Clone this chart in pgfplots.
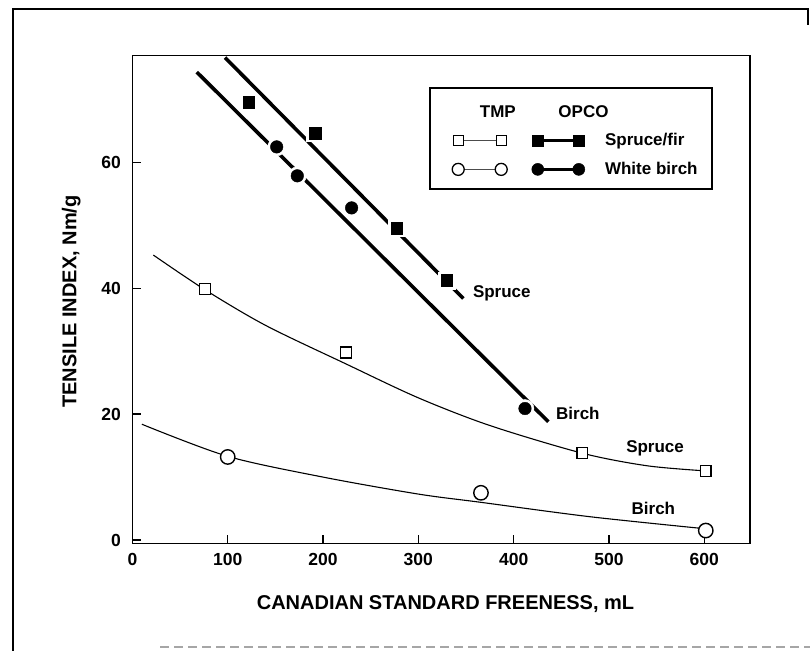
\documentclass[border=0pt]{standalone}
\usepackage{pgfplots}
\pgfplotsset{compat=1.18}
\usepackage{fontspec}
\setmainfont{Liberation Sans}
\newcommand\tk{\fontsize{17.5bp}{20bp}\selectfont\bfseries}
\newcommand\lgd{\fontsize{17bp}{20bp}\selectfont\bfseries}
\newcommand\lb{\fontsize{20bp}{24bp}\selectfont\bfseries}
\begin{document}
\begin{tikzpicture}
\useasboundingbox (0,0) rectangle (810bp,-651bp);
% scanned page frame
\draw[line width=1.6bp] (13bp,-651bp) -- (13bp,-9bp) -- (808bp,-9bp) -- (808bp,-25bp);
\draw[black!35, line width=1.5bp, dash pattern=on 9bp off 5bp] (160bp,-647bp) -- (810bp,-647bp);
\begin{axis}[
    at={(132.4bp,-543.5bp)}, anchor=south west,
    scale only axis,
    width=617.6bp, height=488bp,
    xmin=0, xmax=648,
    ymin=-0.56, ymax=77.03,
    xtick={0,100,...,600},
    ytick={0,20,40,60},
    tick align=inside,
    tick pos=left,
    major tick length=9bp,
    axis line style={line width=1.5bp},
    tick style={line width=1.5bp, black},
    /pgf/number format/assume math mode=true,
    tick label style={font=\tk},
    yticklabel style={xshift=-8bp},
    xticklabel style={yshift=-6bp},
    xlabel={CANADIAN STANDARD FREENESS, mL},
    ylabel={TENSILE INDEX, Nm/g},
    label style={font=\lb},
    xlabel style={at={(axis description cs:0.507,-0.124)}, anchor=center},
    ylabel style={at={(axis description cs:-0.099,0.496)}, anchor=center, rotate=0},
    legend columns=2,
    legend style={at={(0.5175,0.8225)}, anchor=west, draw=none, fill=none,
        font=\lgd, row sep=11bp, inner sep=0pt,
        nodes={inner sep=2bp},
        /tikz/every odd column/.append style={column sep=-5.5bp},
        /tikz/every even column/.append style={column sep=17.5bp}},
    legend cell align=left,
]
% TMP curves
\addplot[black, line width=1.1bp, smooth, forget plot] coordinates {
    (22,45.3) (76,39.8) (140,34.1) (224,28.0) (300,22.6) (375,18.2) (472,13.8) (540,11.8) (600,11.0)};
\addplot[black, line width=1.1bp, smooth, forget plot] coordinates {
    (10,18.4) (100,13.3) (200,10.0) (300,7.3) (365,6.0) (480,3.7) (600,1.8)};
% OPCO lines
\addplot[black, line width=3.6bp, forget plot] coordinates {(97.2,76.7) (347.2,38.4)};
\addplot[black, line width=3.6bp, forget plot] coordinates {(67.5,74.4) (436.4,18.8)};
% white halos round the OPCO marks
\addplot[only marks, mark=square*, mark size=8.5bp, mark options={fill=white, draw=white}, forget plot]
    coordinates {(122.2,69.6) (191.5,64.7) (277.3,49.6) (329.8,41.3)};
\addplot[only marks, mark=*, mark size=9bp, mark options={fill=white, draw=white}, forget plot]
    coordinates {(151.4,62.5) (173,57.9) (230,52.8) (411.9,20.9)};
% OPCO marks
\addplot[only marks, mark=square*, mark size=5.8bp, mark options={fill=black, draw=black}, forget plot]
    coordinates {(122.2,69.6) (191.5,64.7) (277.3,49.6) (329.8,41.3)};
\addplot[only marks, mark=*, mark size=6.3bp, mark options={fill=black, draw=black}, forget plot]
    coordinates {(151.4,62.5) (173,57.9) (230,52.8) (411.9,20.9)};
% TMP marks
\addplot[only marks, mark=square*, mark size=5.4bp, mark options={fill=white, draw=black, line width=1.4bp}, forget plot]
    coordinates {(76,39.9) (224,29.8) (472,13.8) (601.5,11.0)};
\addplot[only marks, mark=*, mark size=7.2bp, mark options={fill=white, draw=black, line width=1.4bp}, forget plot]
    coordinates {(100,13.2) (365.7,7.5) (601.6,1.5)};
% curve labels
\node[font=\lgd] at (axis cs:387.6,39.2) {Spruce};
\node[font=\lgd] at (axis cs:467.4,20.1) {Birch};
\node[font=\lgd] at (axis cs:548.4,14.6) {Spruce};
\node[font=\lgd] at (axis cs:546.6,5.0) {Birch};
% legend frame
\draw[line width=1.5bp] (axis cs:312.3,71.9) rectangle (axis cs:608.2,55.8);
% legend
\addlegendimage{legend image code/.code={\path[draw=none,fill=none] (-6bp,-8bp) rectangle (49bp,6bp); \node[inner sep=0pt] at (21.5bp,0bp) {TMP};}}
\addlegendentry{}
\addlegendimage{legend image code/.code={\path[draw=none,fill=none] (-6bp,-8bp) rectangle (47bp,6bp); \node[inner sep=0pt] at (20.5bp,0bp) {OPCO};}}
\addlegendentry{}
\addlegendimage{legend image code/.code={\draw[black!70, line width=0.9bp, mark=square*, mark size=5bp, mark options={fill=white, draw=black, line width=1.3bp}] plot coordinates {(0bp,0bp) (43bp,0bp)};}}
\addlegendentry{}
\addlegendimage{legend image code/.code={\draw[black, line width=2.4bp, mark=square*, mark size=5.2bp, mark options={fill=black, draw=black, line width=0.5bp}] plot coordinates {(0bp,0bp) (41bp,0bp)};}}
\addlegendentry{Spruce/fir}
\addlegendimage{legend image code/.code={\draw[black!70, line width=0.9bp, mark=*, mark size=6bp, mark options={fill=white, draw=black, line width=1.3bp}] plot coordinates {(0bp,0bp) (43bp,0bp)};}}
\addlegendentry{}
\addlegendimage{legend image code/.code={\draw[black, line width=2.4bp, mark=*, mark size=6bp, mark options={fill=black, draw=black, line width=0.5bp}] plot coordinates {(0bp,0bp) (41bp,0bp)};}}
\addlegendentry{White birch}
\end{axis}
\end{tikzpicture}
\end{document}
